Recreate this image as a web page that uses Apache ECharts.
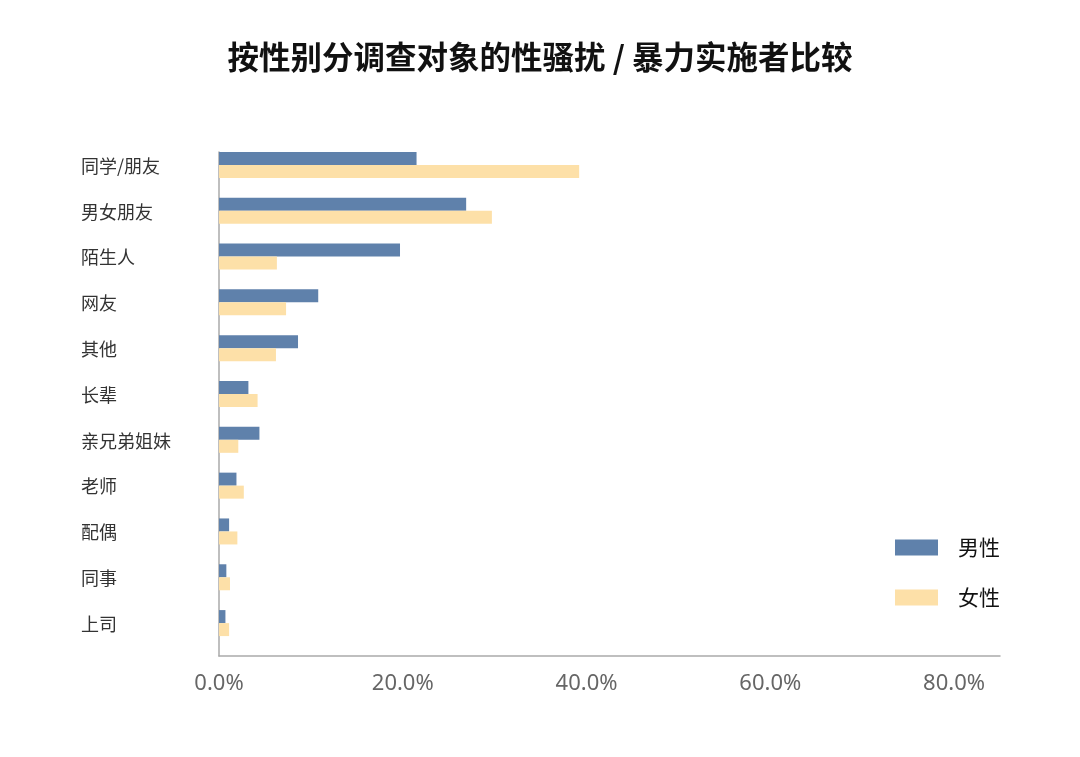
<!DOCTYPE html>
<html>
<head>
<meta charset="utf-8">
<script src="https://cdn.jsdelivr.net/npm/echarts@6/dist/echarts.min.js"></script>
<style>
html,body{margin:0;padding:0;background:#fff;}
#chart{width:1080px;height:757px;}
</style>
</head>
<body>
<div id="chart"></div>
<script>
const categories = ['同学/朋友','男女朋友','陌生人','网友','其他','长辈','亲兄弟姐妹','老师','配偶','同事','上司'];
const maleValues = [21.5, 26.9, 19.7, 10.8, 8.6, 3.2, 4.4, 1.9, 1.1, 0.8, 0.7];
const femaleValues = [39.2, 29.7, 6.3, 7.3, 6.2, 4.2, 2.1, 2.7, 2.0, 1.2, 1.1];
const seriesNames = ['男性','女性'];
const titleText = '按性别分调查对象的性骚扰 / 暴力实施者比较';

const chart = echarts.init(document.getElementById('chart'));
const FONT = '"Noto Sans CJK SC","Noto Sans",sans-serif';
chart.setOption({
  backgroundColor: '#ffffff',
  animation: false,
  title: {
    text: titleText,
    left: 'center',
    top: 36,
    textStyle: {fontFamily: FONT, fontSize: 31.5, fontWeight: 'bold', color: '#111'}
  },
  legend: {
    data: seriesNames,
    orient: 'vertical',
    left: 895,
    top: 537,
    padding: 0,
    itemWidth: 43,
    itemHeight: 16,
    itemGap: 29,
    icon: 'rect',
    textStyle: {fontFamily: FONT, fontSize: 21, color: '#111', padding: [0,0,0,15]}
  },
  grid: {left: 219, right: 80, top: 152, bottom: 101, containLabel: false},
  xAxis: {
    type: 'value',
    min: 0,
    max: 85,
    interval: 20,
    splitLine: {show: false},
    axisTick: {show: false},
    axisLine: {show: true, lineStyle: {color: '#aaaaaa', width: 1.5}},
    axisLabel: {
      showMaxLabel: false,
      margin: 17,
      fontFamily: '"Noto Sans",sans-serif',
      fontSize: 22,
      color: '#666',
      formatter: v => (v % 20 === 0 ? v.toFixed(1) + '%' : '')
    }
  },
  yAxis: {
    type: 'category',
    data: categories,
    inverse: true,
    axisTick: {show: false},
    axisLine: {show: true, lineStyle: {color: '#aaaaaa', width: 1.5}},
    axisLabel: {
      align: 'left',
      verticalAlign: 'bottom',
      lineHeight: 18,
      margin: 138,
      fontFamily: FONT,
      fontSize: 18,
      color: '#333'
    }
  },
  series: [
    {name: seriesNames[0], type: 'bar', data: maleValues, barWidth: 13, barGap: '0%',
     itemStyle: {color: '#5f81ab'}},
    {name: seriesNames[1], type: 'bar', data: femaleValues, barWidth: 13, barGap: '0%',
     itemStyle: {color: '#fde0a8'}},
    {name: 'pad', type: 'bar', data: categories.map(() => '-'), barWidth: 20, barGap: '0%',
     silent: true, itemStyle: {color: 'rgba(0,0,0,0)'}}
  ]
});
</script>
</body>
</html>
